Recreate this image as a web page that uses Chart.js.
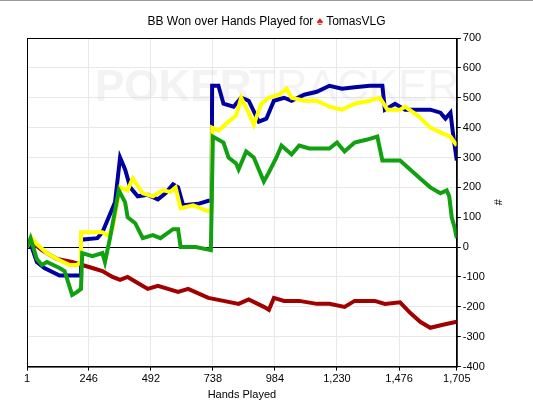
<!DOCTYPE html>
<html>
<head>
<meta charset="utf-8">
<script src="https://cdn.jsdelivr.net/npm/chart.js@4"></script>
<style>
  body { margin: 0; background: #fff; overflow: hidden; }
  #wrap { position: relative; width: 533px; height: 400px; border-top: 1px solid #999; box-sizing: border-box; overflow: hidden; }
  #title { position: absolute; top: 13px; left: 0; width: 533px; text-align: center; font: 12px "Liberation Sans", Arial, sans-serif; color: #000; }
  #title span { color: #d42020; }
</style>
</head>
<body>
<div id="wrap">
  <div id="title">BB Won over Hands Played for <span>♠</span> TomasVLG</div>
  <canvas id="c" width="533" height="403"></canvas>
</div>
<script>
const xTicks = [1, 246, 492, 738, 984, 1230, 1476, 1705];

const blueHands = [1, 20, 40, 70, 130, 200, 212, 215, 280, 300, 330, 350, 370, 390, 410, 440, 480, 520, 550, 580, 600, 620, 680, 720, 733, 735, 760, 780, 820, 850, 880, 920, 950, 980, 1020, 1050, 1100, 1150, 1200, 1250, 1300, 1360, 1400, 1410, 1420, 1460, 1500, 1600, 1640, 1660, 1680, 1690, 1705];
const blueValues = [0, 0, -50, -70, -95, -95, -95, 25, 30, 50, 110, 150, 300, 260, 200, 170, 175, 160, 180, 210, 200, 140, 145, 155, 155, 540, 540, 480, 470, 500, 490, 420, 430, 490, 500, 490, 510, 520, 540, 530, 535, 540, 540, 540, 460, 480, 460, 460, 450, 430, 450, 380, 290];

const yellowHands = [1, 20, 40, 80, 120, 170, 200, 212, 215, 300, 320, 340, 370, 400, 420, 460, 500, 540, 570, 590, 610, 660, 720, 733, 735, 760, 800, 830, 850, 880, 900, 930, 960, 1000, 1030, 1050, 1100, 1150, 1200, 1250, 1300, 1360, 1400, 1430, 1480, 1500, 1550, 1600, 1650, 1680, 1705];
const yellowValues = [0, 30, 10, -20, -40, -60, -60, -50, 50, 50, 40, 60, 200, 190, 230, 180, 170, 190, 185, 200, 130, 140, 120, 120, 400, 390, 420, 440, 500, 450, 410, 480, 500, 510, 530, 500, 490, 490, 470, 460, 480, 490, 500, 460, 460, 470, 440, 400, 380, 370, 340];

const greenHands = [1, 15, 40, 60, 80, 130, 150, 180, 200, 215, 220, 260, 300, 310, 330, 365, 390, 400, 430, 460, 500, 530, 580, 600, 610, 670, 730, 738, 780, 800, 830, 840, 870, 900, 920, 940, 960, 990, 1010, 1050, 1080, 1120, 1200, 1230, 1260, 1300, 1350, 1390, 1410, 1440, 1480, 1520, 1560, 1600, 1640, 1665, 1675, 1685, 1695, 1705];
const greenValues = [0, 30, -40, -60, -50, -70, -80, -160, -150, -140, -20, -30, -20, -50, 30, 190, 150, 100, 80, 30, 40, 30, 60, 60, 0, 0, -10, 370, 350, 300, 280, 260, 320, 300, 260, 220, 250, 300, 340, 310, 340, 330, 330, 350, 320, 350, 360, 370, 290, 290, 290, 260, 230, 200, 180, 190, 170, 100, 70, 30];

const redHands = [1, 15, 60, 120, 180, 220, 260, 300, 340, 370, 400, 440, 480, 520, 600, 640, 720, 780, 840, 880, 940, 960, 980, 1020, 1080, 1150, 1200, 1260, 1300, 1380, 1420, 1480, 1520, 1560, 1600, 1650, 1705];
const redValues = [0, 20, -10, -40, -50, -60, -70, -80, -100, -110, -100, -120, -140, -130, -150, -140, -170, -180, -190, -175, -200, -210, -170, -180, -180, -190, -190, -200, -180, -180, -190, -185, -220, -250, -270, -260, -250];

function pts(hands, values) {
  return hands.map((h, i) => ({ x: h, y: values[i] }));
}

const watermark = {
  id: 'watermark',
  beforeDatasetsDraw(chart) {
    const { ctx, chartArea } = chart;
    ctx.save();
    ctx.font = 'bold 44px "Liberation Sans", Arial, sans-serif';
    ctx.fillStyle = 'rgba(200,200,200,0.22)';
    ctx.textBaseline = 'middle';
    ctx.fillText('POKER', chartArea.left + 68, 88);
    ctx.font = '44px "Liberation Sans", Arial, sans-serif';
    ctx.fillText('TRACKER', chartArea.left + 222, 88);
    ctx.restore();
  }
};

const line = (data, color) => ({
  data, borderColor: color, borderWidth: 4, pointRadius: 0, tension: 0, fill: false
});

new Chart(document.getElementById('c'), {
  type: 'line',
  data: {
    datasets: [
      line(pts(greenHands, greenValues), '#10a010'),
      line(pts(yellowHands, yellowValues), '#ffff00'),
      line(pts(redHands, redValues), '#a00000'),
      line(pts(blueHands, blueValues), '#0000a0')
    ]
  },
  options: {
    responsive: false,
    animation: false,
    layout: { padding: { left: 27, right: 25, top: 37, bottom: 0 } },
    plugins: { legend: { display: false }, tooltip: { enabled: false } },
    scales: {
      x: {
        type: 'linear', min: 1, max: 1705,
        afterBuildTicks: axis => { axis.ticks = xTicks.map(v => ({ value: v })); },
        ticks: { color: '#000', font: { size: 11, family: 'Liberation Sans' }, maxRotation: 0, padding: 2,
          callback: v => v.toLocaleString('en-US') },
        grid: { color: '#e8e8e8', tickColor: '#000', tickLength: 4 },
        border: { color: '#000', width: 1 },
        title: { display: true, text: 'Hands Played', color: '#000', font: { size: 11, family: 'Liberation Sans' }, padding: { top: 1, bottom: 2 } }
      },
      y: {
        position: 'right', min: -400, max: 700,
        ticks: { stepSize: 100, color: '#000', font: { size: 11, family: 'Liberation Sans' }, padding: 2 },
        grid: { color: ctx => ctx.tick.value === 0 ? '#000' : '#e8e8e8', tickColor: '#000', tickLength: 4 },
        border: { color: '#000', width: 1 },
        title: { display: true, text: '#', color: '#000', font: { size: 11, family: 'Liberation Sans' } }
      }
    }
  },
  plugins: [watermark, {
    id: 'frame',
    afterDraw(chart) {
      const { ctx, chartArea: a } = chart;
      ctx.save();
      ctx.strokeStyle = '#000';
      ctx.lineWidth = 1;
      ctx.strokeRect(a.left + 0.5, a.top + 0.5, a.right - a.left, a.bottom - a.top);
      ctx.restore();
    }
  }]
});
</script>
</body>
</html>
